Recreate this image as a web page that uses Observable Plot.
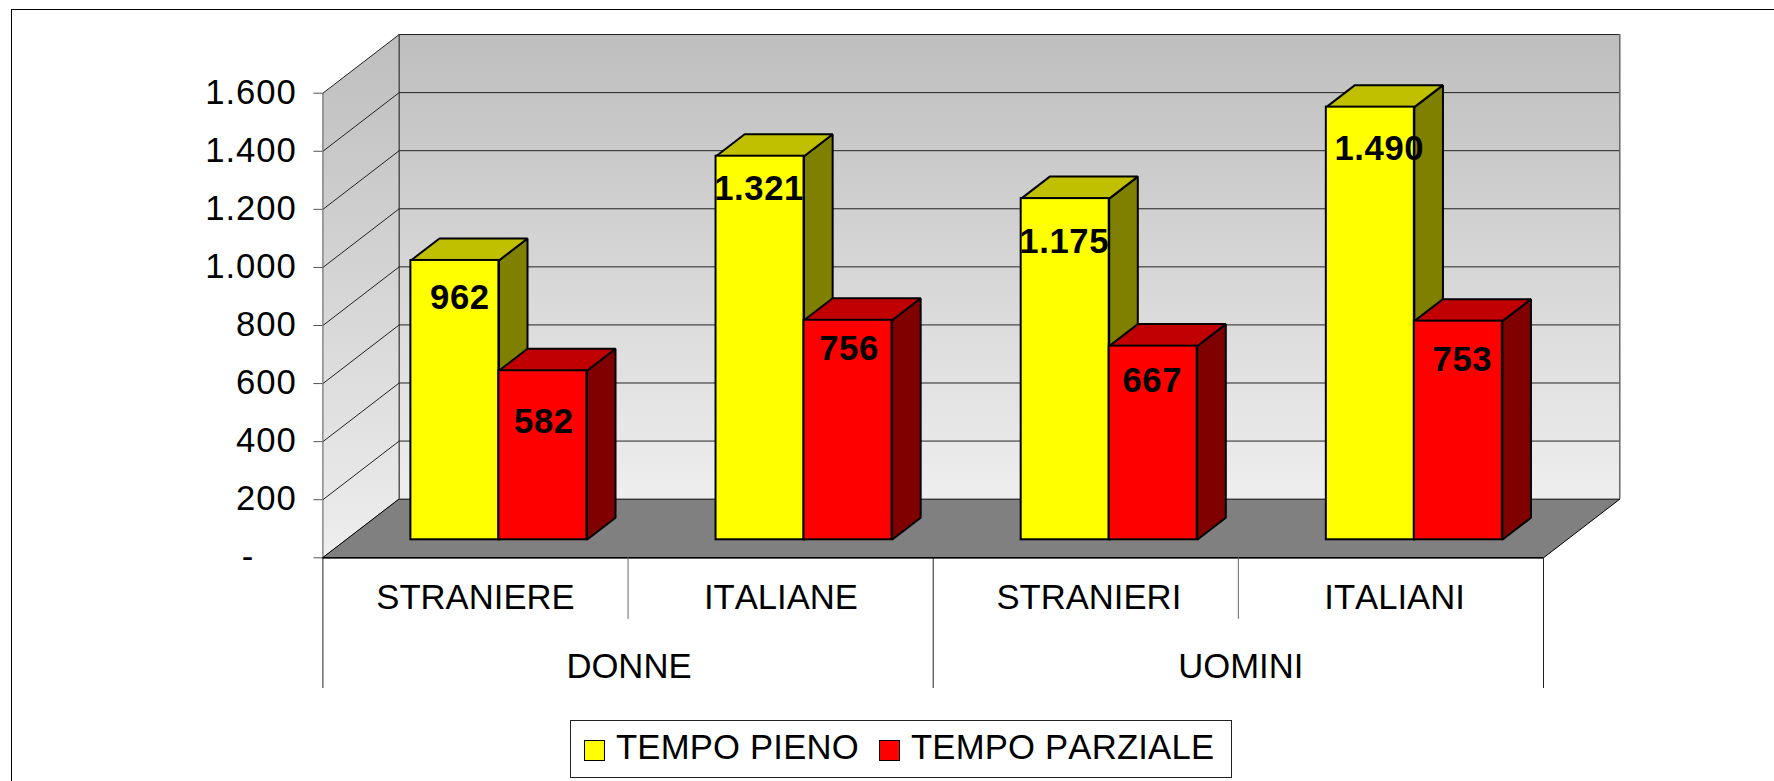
<!DOCTYPE html>
<html>
<head>
<meta charset="utf-8">
<script src="https://cdn.jsdelivr.net/npm/d3@7"></script>
<script src="https://cdn.jsdelivr.net/npm/@observablehq/plot@0.6"></script>
<style>
  html, body { margin: 0; padding: 0; background: #fff; overflow: hidden; }
  body { width: 1774px; height: 781px; position: relative; font-family: "Liberation Sans", Arial, sans-serif; font-kerning: none; }
  #frame { position: absolute; left: 11px; top: 9px; right: -10px; bottom: -10px; border-left: 1.5px solid #000; border-top: 1.5px solid #000; pointer-events: none; }
  #chart svg { display: block; font-kerning: none; }
  #legend { position: absolute; left: 570px; top: 720px; width: 662px; height: 58px; box-sizing: border-box; border: 1px solid #222; display: block; background: #fff; }
  #legend span.sw { position: absolute; top: 18.5px; width: 19px; height: 19px; border: 1.5px solid #000; }
  #legend span.tx { position: absolute; top: 6px; font-size: 34.67px; line-height: 40px; color: #000; white-space: nowrap; letter-spacing: 0.2px; }
</style>
</head>
<body>
<div id="chart"></div>
<div id="legend"></div>
<div id="frame"></div>
<script>
// ---- data ----
const categories = ["STRANIERE", "ITALIANE", "STRANIERI", "ITALIANI"];
const groups = ["DONNE", "UOMINI"];
const seriesNames = ["TEMPO PIENO", "TEMPO PARZIALE"];
const tempoPieno = [962, 1321, 1175, 1490];
const tempoParziale = [582, 756, 667, 753];
const yTicks = [0, 200, 400, 600, 800, 1000, 1200, 1400, 1600];

// ---- styles and 3-D layout ----
const palette = [
  {front: "#ffff00", top: "#c0c000", side: "#808000"},
  {front: "#ff0000", top: "#c00000", side: "#800000"}
];
const font = "'Liberation Sans', Arial, sans-serif";
const fontSize = 34.67;
const depthX = 0.25;      // wall depth, in category units
const depthY = 202;       // wall depth, in value units
const barW = 0.2884;      // bar width, in category units
const barNear = 0.307;    // bar front plane, fraction of depth
const barFar = 0.682;     // bar back plane, fraction of depth
// hand-placed value labels of the source chart: [dx, dy] from the top-centre of the bar front
const labelNudge = [
  [[5, 37], [1, 51]],
  [[-1, 33], [1, 29]],
  [[-1, 43], [-1, 35]],
  [[9, 42], [4, 39]]
];
// category tick label centres, in category units (the source places them slightly off-centre)
const categoryTicks = [0.5, 1.501, 2.51, 3.512];
const groupCentres = [1.003, 3.008];

const fmt = v => d3.format(",")(v).replace(/,/g, ".");
const project = (x, v, d) => ({x: x + d * depthX, y: v + d * depthY});
const poly = (id, pts) => pts.map(([x, v, d]) => ({id, ...project(x, v, d)}));

const series = [tempoPieno, tempoParziale];
function barFaces(s) {
  const front = [], top = [], side = [];
  series[s].forEach((v, i) => {
    const x0 = i + (1 - 2 * barW) / 2 + s * barW, x1 = x0 + barW;
    const base = 0;
    front.push({...project(x0, base, barNear), x2: project(x1, base, barNear).x, y2: project(x0, base + v, barNear).y});
    top.push(...poly(i, [[x0, v, barNear], [x1, v, barNear], [x1, v, barFar], [x0, v, barFar]]));
    side.push(...poly(i, [[x1, base, barNear], [x1, v, barNear], [x1, v, barFar], [x1, base, barFar]]));
  });
  return {front, top, side};
}
const barMarks = s => {
  const {front, top, side} = barFaces(s);
  const stroke = {stroke: "#000", strokeWidth: 2, strokeLinejoin: "miter"};
  return [
    Plot.line(side, {x: "x", y: "y", z: "id", curve: "linear-closed", fill: palette[s].side, ...stroke}),
    Plot.line(top, {x: "x", y: "y", z: "id", curve: "linear-closed", fill: palette[s].top, ...stroke}),
    Plot.rect(front, {x1: "x", x2: "x2", y1: "y", y2: "y2", fill: palette[s].front, ...stroke})
  ];
};

const gradient = () => {
  const defs = d3.create("svg:defs");
  const g = defs.append("linearGradient").attr("id", "wall").attr("x1", 0).attr("y1", 0).attr("x2", 0).attr("y2", 1);
  g.append("stop").attr("offset", "0%").attr("stop-color", "#bebebe");
  g.append("stop").attr("offset", "100%").attr("stop-color", "#eeeeee");
  return defs.node();
};

const backWall = [{x1: depthX, x2: 4 + depthX, y1: depthY, y2: 1600 + depthY}];
const leftWall = poly("l", [[0, 0, 0], [0, 1600, 0], [0, 1600, 1], [0, 0, 1]]);
const floor = poly("f", [[0, 0, 0], [4, 0, 0], [4, 0, 1], [0, 0, 1]]);
const catDividers = [1, 3].map(x => ({x, y2: -212}));
const groupDividers = [0, 2, 4].map(x => ({x, y2: -450}));

const labels = [];
series.forEach((vals, s) => vals.forEach((v, i) => {
  const x = i + (1 - 2 * barW) / 2 + s * barW + barW / 2 + barNear * depthX;
  labels.push({x, y: v + barNear * depthY, text: fmt(v), dx: labelNudge[i][s][0], dy: labelNudge[i][s][1]});
}));

const plot = Plot.plot({
  width: 1774,
  height: 700,
  marginLeft: 322.4,
  marginRight: 231,
  marginTop: 92.7,
  marginBottom: 142.7,
  x: {domain: [0, 4], axis: null},
  y: {domain: [0, 1600], axis: null},
  style: {background: "transparent", fontFamily: font, overflow: "visible"},
  marks: [
    gradient,
    Plot.rect(backWall, {x1: "x1", x2: "x2", y1: "y1", y2: "y2", fill: "url(#wall)"}),
    Plot.line(leftWall, {x: "x", y: "y", z: "id", curve: "linear-closed", fill: "url(#wall)", stroke: "none"}),
    Plot.ruleY(yTicks.slice(1), {y: d => d + depthY, x1: depthX, x2: 4 + depthX, stroke: "#222", strokeWidth: 1}),
    Plot.link(yTicks, {x1: 0, y1: d => d, x2: depthX, y2: d => d + depthY, stroke: "#222", strokeWidth: 1}),
    Plot.ruleX([0], {y1: 0, y2: 1600, stroke: "#555", strokeWidth: 1}),
    Plot.ruleX([depthX], {y1: depthY, y2: 1600 + depthY, stroke: "#333", strokeWidth: 1.2}),
    Plot.ruleX([4 + depthX], {y1: depthY, y2: 1600 + depthY, stroke: "#666", strokeWidth: 1.5}),
    Plot.line(floor, {x: "x", y: "y", z: "id", curve: "linear-closed", fill: "#808080", stroke: "#000", strokeWidth: 1}),
    Plot.ruleY([0], {x1: 0, x2: 4, stroke: "#000", strokeWidth: 1.5}),
    Plot.ruleX(catDividers, {x: "x", y1: 0, y2: "y2", stroke: "#666", strokeWidth: 1}),
    Plot.ruleX(groupDividers, {x: "x", y1: 0, y2: "y2", stroke: "#222", strokeWidth: 1}),
    Plot.axisY({
      anchor: "left", ticks: yTicks, tickSize: 9, tickPadding: 17, label: null,
      stroke: "#555", fontSize,
      tickFormat: v => v === 0 ? "-\u00a0\u00a0\u00a0\u00a0" : fmt(v)
    }),
    Plot.axisX({
      anchor: "bottom", ticks: categoryTicks, tickSize: 0, tickPadding: 26.5, label: null,
      fontSize, tickFormat: v => categories[Math.floor(v)]
    }),
    Plot.text(groups, {x: (d, i) => groupCentres[i], y: -375, text: d => d, fontSize, fill: "#000"}),
    ...barMarks(0),
    ...barMarks(1),
    ...labels.map(l => Plot.text([l], {
      x: "x", y: "y", text: "text", dx: l.dx, dy: l.dy,
      fontSize, fontWeight: "bold", fill: "#000"
    }))
  ]
});
document.getElementById("chart").append(plot);

// the source's hinted digits run slightly wider than the outline metrics
const svg = d3.select(plot);
svg.selectAll('g[aria-label="y-axis tick label"] text').style("letter-spacing", "1px");
svg.selectAll('g[aria-label="y-axis tick label"]').attr("transform", function() {
  return (this.getAttribute("transform") || "") + " translate(0,-0.8)";
});
svg.selectAll('g[font-weight="bold"] text').style("letter-spacing", "0.6px");

// ---- legend ----
const legend = d3.select("#legend");
const legendPos = [{sw: 13, tx: 45}, {sw: 308, tx: 340}];
seriesNames.forEach((name, s) => {
  legend.append("span").attr("class", "sw").style("left", legendPos[s].sw + "px").style("background", palette[s].front);
  legend.append("span").attr("class", "tx").style("left", legendPos[s].tx + "px").text(name);
});
</script>
</body>
</html>
